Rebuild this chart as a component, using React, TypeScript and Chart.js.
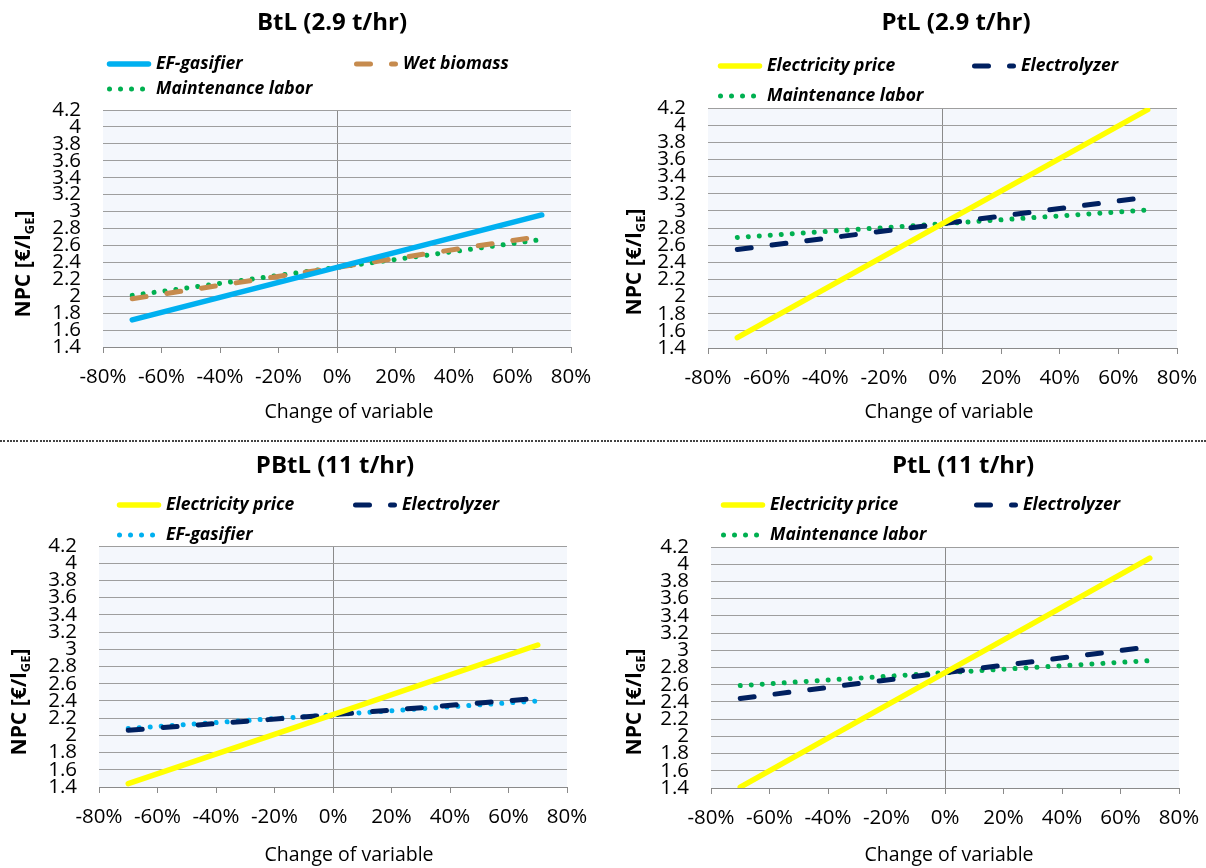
import React, { useEffect, useRef } from 'react';
import { Chart, registerables } from 'chart.js';

Chart.register(...registerables);

// ---------- data ----------
const changeOfVariable = [-70, 0, 70];
const xTickValues = [-80, -60, -40, -20, 0, 20, 40, 60, 80];
const yTickValues = [1.4, 1.6, 1.8, 2.0, 2.2, 2.4, 2.6, 2.8, 3.0, 3.2, 3.4, 3.6, 3.8, 4.0, 4.2];

const panelTitles = ['BtL (2.9 t/hr)', 'PtL (2.9 t/hr)', 'PBtL (11 t/hr)', 'PtL (11 t/hr)'];
const xAxisTitle = 'Change of variable';

const btlEFGasifier = [1.72, 2.34, 2.96];
const btlWetBiomass = [1.97, 2.34, 2.71];
const btlMaintenance = [2.01, 2.34, 2.67];

const ptl29Electricity = [1.52, 2.85, 4.18];
const ptl29Electrolyzer = [2.55, 2.85, 3.16];
const ptl29Maintenance = [2.69, 2.85, 3.01];

const pbtlElectricity = [1.44, 2.24, 3.05];
const pbtlElectrolyzer = [2.06, 2.24, 2.43];
const pbtlEFGasifier = [2.08, 2.24, 2.40];

const ptl11Electricity = [1.41, 2.74, 4.07];
const ptl11Electrolyzer = [2.44, 2.74, 3.04];
const ptl11Maintenance = [2.59, 2.74, 2.88];

// ---------- styles ----------
const FONT = '"Open Sans", "Noto Sans", sans-serif';
const PLOT_BG = '#f4f7fc';
const GRID = '#9e9e9e';
const AXIS = '#8a8a8a';
const C_BLUE = '#00b0f0';
const C_BROWN = '#c68b4e';
const C_GREEN = '#00b050';
const C_YELLOW = '#ffff00';
const C_NAVY = '#002060';

type LineStyle = { color: string; width: number; dash: number[] };
const solid = (color: string): LineStyle => ({ color, width: 5.5, dash: [] });
const dashed = (color: string): LineStyle => ({ color, width: 5, dash: [14, 21] });
const dotted = (color: string): LineStyle => ({ color, width: 5, dash: [0.01, 11] });

type Series = { label: string; values: number[]; style: LineStyle };
type Panel = {
  title: string;
  left: number; top: number; w: number; h: number;
  plot: { l: number; r: number; t: number; b: number };
  titlePos: [number, number];
  legendCols: [number, number];
  legendRows: [number, number];
  yTitlePos: [number, number];
  xTitlePos: [number, number];
  series: Series[];
};

const panels: Panel[] = [
  {
    title: panelTitles[0], left: 0, top: 0, w: 600, h: 430,
    plot: { l: 103, r: 571, t: 110, b: 347 },
    titlePos: [332, 23], legendCols: [156, 403], legendRows: [64, 89],
    yTitlePos: [22, 264], xTitlePos: [349, 412],
    series: [
      { label: 'EF-gasifier', values: btlEFGasifier, style: solid(C_BLUE) },
      { label: 'Wet biomass', values: btlWetBiomass, style: dashed(C_BROWN) },
      { label: 'Maintenance labor', values: btlMaintenance, style: dotted(C_GREEN) },
    ],
  },
  {
    title: panelTitles[1], left: 600, top: 0, w: 606, h: 430,
    plot: { l: 108, r: 577, t: 108, b: 348 },
    titlePos: [356, 23], legendCols: [167, 421], legendRows: [66, 96],
    yTitlePos: [33, 262], xTitlePos: [349, 412],
    series: [
      { label: 'Electricity price', values: ptl29Electricity, style: solid(C_YELLOW) },
      { label: 'Electrolyzer', values: ptl29Electrolyzer, style: dashed(C_NAVY) },
      { label: 'Maintenance labor', values: ptl29Maintenance, style: dotted(C_GREEN) },
    ],
  },
  {
    title: panelTitles[2], left: 0, top: 441, w: 600, h: 427,
    plot: { l: 99, r: 567, t: 105, b: 346 },
    titlePos: [335, 25], legendCols: [166, 402], legendRows: [64, 94],
    yTitlePos: [18, 261], xTitlePos: [349, 414],
    series: [
      { label: 'Electricity price', values: pbtlElectricity, style: solid(C_YELLOW) },
      { label: 'Electrolyzer', values: pbtlElectrolyzer, style: dashed(C_NAVY) },
      { label: 'EF-gasifier', values: pbtlEFGasifier, style: dotted(C_BLUE) },
    ],
  },
  {
    title: panelTitles[3], left: 600, top: 441, w: 606, h: 427,
    plot: { l: 111, r: 579, t: 106, b: 347 },
    titlePos: [363, 25], legendCols: [170, 423], legendRows: [64, 94],
    yTitlePos: [33, 261], xTitlePos: [349, 414],
    series: [
      { label: 'Electricity price', values: ptl11Electricity, style: solid(C_YELLOW) },
      { label: 'Electrolyzer', values: ptl11Electrolyzer, style: dashed(C_NAVY) },
      { label: 'Maintenance labor', values: ptl11Maintenance, style: dotted(C_GREEN) },
    ],
  },
];

const Y_AXIS_W = 70;
const X_AXIS_H = 45;

function makeDecor(p: Panel) {
  return {
    id: 'panelDecor',
    beforeDraw(chart: any) {
      const { ctx, chartArea: a } = chart;
      ctx.save();
      ctx.fillStyle = PLOT_BG;
      ctx.fillRect(a.left, a.top, a.right - a.left, a.bottom - a.top);
      ctx.restore();
    },
    afterDraw(chart: any) {
      const ctx: CanvasRenderingContext2D = chart.ctx;
      ctx.save();
      // title
      ctx.fillStyle = '#000';
      ctx.font = `bold 24px ${FONT}`;
      ctx.textAlign = 'center';
      ctx.textBaseline = 'middle';
      ctx.fillText(p.title, p.titlePos[0], p.titlePos[1]);

      // legend
      p.series.forEach((s, i) => {
        const tx = p.legendCols[i % 2];
        const ty = p.legendRows[Math.floor(i / 2)];
        ctx.save();
        ctx.strokeStyle = s.style.color;
        ctx.lineWidth = s.style.width;
        ctx.lineCap = 'round';
        ctx.setLineDash(s.style.dash);
        ctx.beginPath();
        ctx.moveTo(tx - 46.5, ty);
        ctx.lineTo(tx - 7.5, ty);
        ctx.stroke();
        ctx.restore();
        ctx.fillStyle = '#000';
        ctx.font = `italic bold 17.5px ${FONT}`;
        ctx.textAlign = 'left';
        ctx.textBaseline = 'middle';
        ctx.fillText(s.label, tx, ty);
      });

      // x-axis title
      ctx.font = `19.5px ${FONT}`;
      ctx.textAlign = 'center';
      ctx.textBaseline = 'middle';
      ctx.fillText(xAxisTitle, p.xTitlePos[0], p.xTitlePos[1]);

      // y-axis title with subscript
      const size = 21;
      const subSize = 13;
      ctx.translate(p.yTitlePos[0], p.yTitlePos[1]);
      ctx.rotate(-Math.PI / 2);
      ctx.textAlign = 'left';
      ctx.textBaseline = 'alphabetic';
      const main = 'NPC [€/l';
      const sub = 'GE';
      const end = ']';
      ctx.font = `bold ${size}px ${FONT}`;
      const wMain = ctx.measureText(main).width;
      const wEnd = ctx.measureText(end).width;
      ctx.font = `bold ${subSize}px ${FONT}`;
      const wSub = ctx.measureText(sub).width;
      let x = -(wMain + wSub + wEnd) / 2;
      const by = size * 0.36;
      ctx.font = `bold ${size}px ${FONT}`;
      ctx.fillText(main, x, by);
      x += wMain;
      ctx.font = `bold ${subSize}px ${FONT}`;
      ctx.fillText(sub, x, by + 4);
      x += wSub;
      ctx.font = `bold ${size}px ${FONT}`;
      ctx.fillText(end, x, by);
      ctx.restore();
    },
  };
}

function PanelChart({ p }: { p: Panel }) {
  const ref = useRef<HTMLCanvasElement>(null);
  useEffect(() => {
    if (!ref.current) return;
    const chart = new Chart(ref.current, {
      type: 'line',
      data: {
        datasets: p.series.map((s) => ({
          label: s.label,
          data: changeOfVariable.map((x, i) => ({ x, y: s.values[i] })),
          borderColor: s.style.color,
          borderWidth: s.style.width,
          borderDash: s.style.dash,
          borderCapStyle: 'round',
          pointRadius: 0,
          fill: false,
          tension: 0,
        })),
      },
      options: {
        responsive: false,
        animation: false,
        devicePixelRatio: 1,
        layout: {
          padding: {
            left: p.plot.l - Y_AXIS_W,
            right: p.w - p.plot.r,
            top: p.plot.t,
            bottom: p.h - p.plot.b - X_AXIS_H,
          },
        },
        plugins: {
          legend: { display: false },
          title: { display: false },
          tooltip: { enabled: false },
        },
        scales: {
          x: {
            type: 'linear',
            min: -80,
            max: 80,
            afterBuildTicks: (s: any) => {
              s.ticks = xTickValues.map((v) => ({ value: v }));
            },
            afterFit: (s: any) => {
              s.height = X_AXIS_H;
              s.paddingLeft = 0;
              s.paddingRight = 0;
            },
            ticks: {
              callback: (v: any) => `${v}%`,
              font: { family: FONT, size: 20.5 },
              color: '#000',
              padding: 12,
              maxRotation: 0,
              autoSkip: false,
            },
            grid: {
              color: (c: any) => (c.tick && c.tick.value === 0 ? AXIS : 'rgba(0,0,0,0)'),
              tickColor: AXIS,
              tickLength: 6,
              drawTicks: true,
            },
            border: { display: true, color: AXIS },
          },
          y: {
            type: 'linear',
            min: 1.4,
            max: 4.2,
            afterBuildTicks: (s: any) => {
              s.ticks = yTickValues.map((v) => ({ value: v }));
            },
            afterFit: (s: any) => {
              s.width = Y_AXIS_W;
              s.paddingTop = 0;
              s.paddingBottom = 0;
            },
            ticks: {
              callback: (v: any) => String(Math.round(Number(v) * 10) / 10),
              font: { family: FONT, size: 20.5 },
              color: '#000',
              padding: 22,
              autoSkip: false,
            },
            grid: { color: GRID, drawTicks: false },
            border: { display: false },
          },
        },
      } as any,
      plugins: [makeDecor(p)],
    });
    return () => chart.destroy();
  }, [p]);
  return (
    <canvas
      ref={ref}
      width={p.w}
      height={p.h}
      style={{ position: 'absolute', left: p.left, top: p.top, width: p.w, height: p.h }}
    />
  );
}

export default function App() {
  useEffect(() => {
    document.body.style.margin = '0';
    document.body.style.background = '#fff';
  }, []);
  return (
    <div style={{ position: 'relative', width: 1206, height: 868, background: '#fff', overflow: 'hidden' }}>
      {panels.map((p, i) => (
        <PanelChart key={i} p={p} />
      ))}
      <div
        style={{
          position: 'absolute',
          left: 0,
          top: 440,
          width: 1206,
          height: 2,
          backgroundImage: 'repeating-linear-gradient(90deg, #444 0px, #444 2px, transparent 2px, transparent 3.3px)',
        }}
      />
    </div>
  );
}
